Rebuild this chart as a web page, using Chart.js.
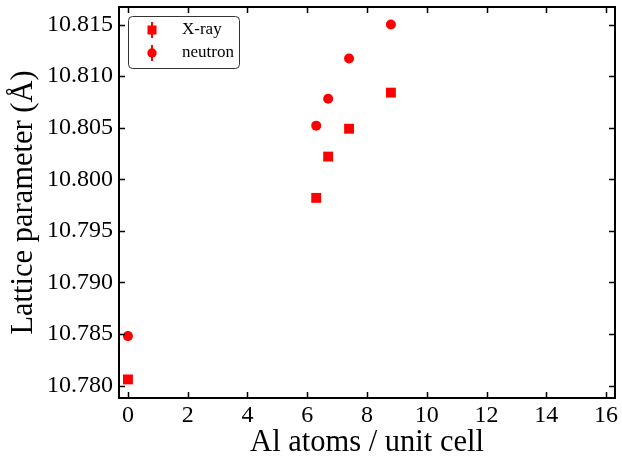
<!DOCTYPE html>
<html>
<head>
    <title>Lattice parameter</title>
    <script src="https://cdn.jsdelivr.net/npm/chart.js"></script>
    <style>
        body { margin: 0; background: #fff; }
        #wrap { width: 622px; height: 462px; }
    </style>
</head>
<body>
    <div id="wrap"><canvas id="chart"></canvas></div>

    <script>
        // values
        const alAtoms = [0, 6.3, 6.7, 7.4, 8.8];
        const xrayLattice = [10.7806, 10.7982, 10.8022, 10.8049, 10.8084];
        const neutronLattice = [10.7848, 10.8052, 10.8078, 10.8117, 10.8150];
        const xTicks = [0, 2, 4, 6, 8, 10, 12, 14, 16];
        const yTicks = [10.780, 10.785, 10.790, 10.795, 10.800, 10.805, 10.810, 10.815];

        const serif = "'Liberation Serif', 'DejaVu Serif', serif";

        function pts(xs, ys) {
            return xs.map((x, i) => ({ x: x, y: ys[i] }));
        }

        // inward ticks on all four sides, frame and legend box
        const frame = {
            id: 'frame',
            afterDraw(chart) {
                const ctx = chart.ctx;
                const a = chart.chartArea;
                const xs = chart.scales.x, ys = chart.scales.y;
                ctx.save();
                ctx.strokeStyle = '#000';
                ctx.lineWidth = 1.5;
                ctx.beginPath();
                xTicks.forEach(v => {
                    const px = Math.round(xs.getPixelForValue(v)) + 0.5;
                    ctx.moveTo(px, a.bottom); ctx.lineTo(px, a.bottom - 6);
                    ctx.moveTo(px, a.top); ctx.lineTo(px, a.top + 6);
                });
                yTicks.forEach(v => {
                    const py = Math.round(ys.getPixelForValue(v)) + 0.5;
                    ctx.moveTo(a.left, py); ctx.lineTo(a.left + 6, py);
                    ctx.moveTo(a.right, py); ctx.lineTo(a.right - 6, py);
                });
                ctx.stroke();
                ctx.lineWidth = 2;
                ctx.strokeRect(a.left, a.top, a.right - a.left, a.bottom - a.top);

                // legend
                const lx = a.left + 9, ly = a.top + 9, lw = 111, lh = 52;
                ctx.strokeStyle = '#333';
                ctx.lineWidth = 1;
                ctx.fillStyle = '#fff';
                ctx.beginPath();
                ctx.roundRect(lx + 0.5, ly + 0.5, lw, lh, 4);
                ctx.fill();
                ctx.stroke();
                ctx.font = '17px ' + serif;
                ctx.textBaseline = 'middle';
                chart.data.datasets.forEach((ds, i) => {
                    const cy = ly + 14 + i * 23;
                    const cx = lx + 24;
                    ctx.fillStyle = 'red';
                    ctx.strokeStyle = 'red';
                    ctx.lineWidth = 2;
                    ctx.beginPath();
                    ctx.moveTo(cx, cy - 8); ctx.lineTo(cx, cy + 8);
                    ctx.stroke();
                    if (ds.pointStyle === 'rect') {
                        ctx.fillRect(cx - 4.5, cy - 4.5, 9, 9);
                    } else {
                        ctx.beginPath();
                        ctx.arc(cx, cy, 4.7, 0, Math.PI * 2);
                        ctx.fill();
                    }
                    ctx.fillStyle = '#000';
                    ctx.fillText(ds.label, lx + 54, cy);
                });
                ctx.restore();
            }
        };

        new Chart(document.getElementById('chart'), {
            type: 'scatter',
            data: {
                datasets: [
                    {
                        label: 'X-ray',
                        data: pts(alAtoms, xrayLattice),
                        pointStyle: 'rect',
                        pointRadius: 7,
                        backgroundColor: 'red',
                        borderColor: 'red',
                        borderWidth: 0
                    },
                    {
                        label: 'neutron',
                        data: pts(alAtoms, neutronLattice),
                        pointStyle: 'circle',
                        pointRadius: 5,
                        backgroundColor: 'red',
                        borderColor: 'red',
                        borderWidth: 0
                    }
                ]
            },
            options: {
                responsive: true,
                maintainAspectRatio: false,
                animation: false,
                layout: { padding: { top: 7, right: 4, left: 0, bottom: 0 } },
                plugins: {
                    legend: { display: false },
                    tooltip: { enabled: false }
                },
                scales: {
                    x: {
                        type: 'linear',
                        min: -0.3,
                        max: 16.3,
                        afterBuildTicks: s => { s.ticks = xTicks.map(v => ({ value: v })); },
                        afterFit: s => { s.height = 64; s.paddingLeft = 0; s.paddingRight = 0; },
                        grid: { drawOnChartArea: false, drawTicks: false },
                        border: { display: false },
                        ticks: {
                            color: '#000',
                            padding: 3,
                            font: { family: serif, size: 24 }
                        },
                        title: {
                            display: true,
                            text: 'Al atoms / unit cell',
                            color: '#000',
                            padding: { top: 0, bottom: 1 },
                            font: { family: serif, size: 30.5 }
                        }
                    },
                    y: {
                        type: 'linear',
                        min: 10.7788,
                        max: 10.8167,
                        afterBuildTicks: s => { s.ticks = yTicks.map(v => ({ value: v })); },
                        afterFit: s => { s.width = 119; s.paddingTop = 0; s.paddingBottom = 0; },
                        grid: { drawOnChartArea: false, drawTicks: false },
                        border: { display: false },
                        ticks: {
                            color: '#000',
                            padding: 6,
                            font: { family: serif, size: 24 },
                            callback: v => v.toFixed(3)
                        },
                        title: {
                            display: true,
                            text: 'Lattice parameter (Å)',
                            color: '#000',
                            padding: { top: 6, bottom: 0 },
                            font: { family: serif, size: 30.5 }
                        }
                    }
                }
            },
            plugins: [frame]
        });
    </script>
</body>
</html>
